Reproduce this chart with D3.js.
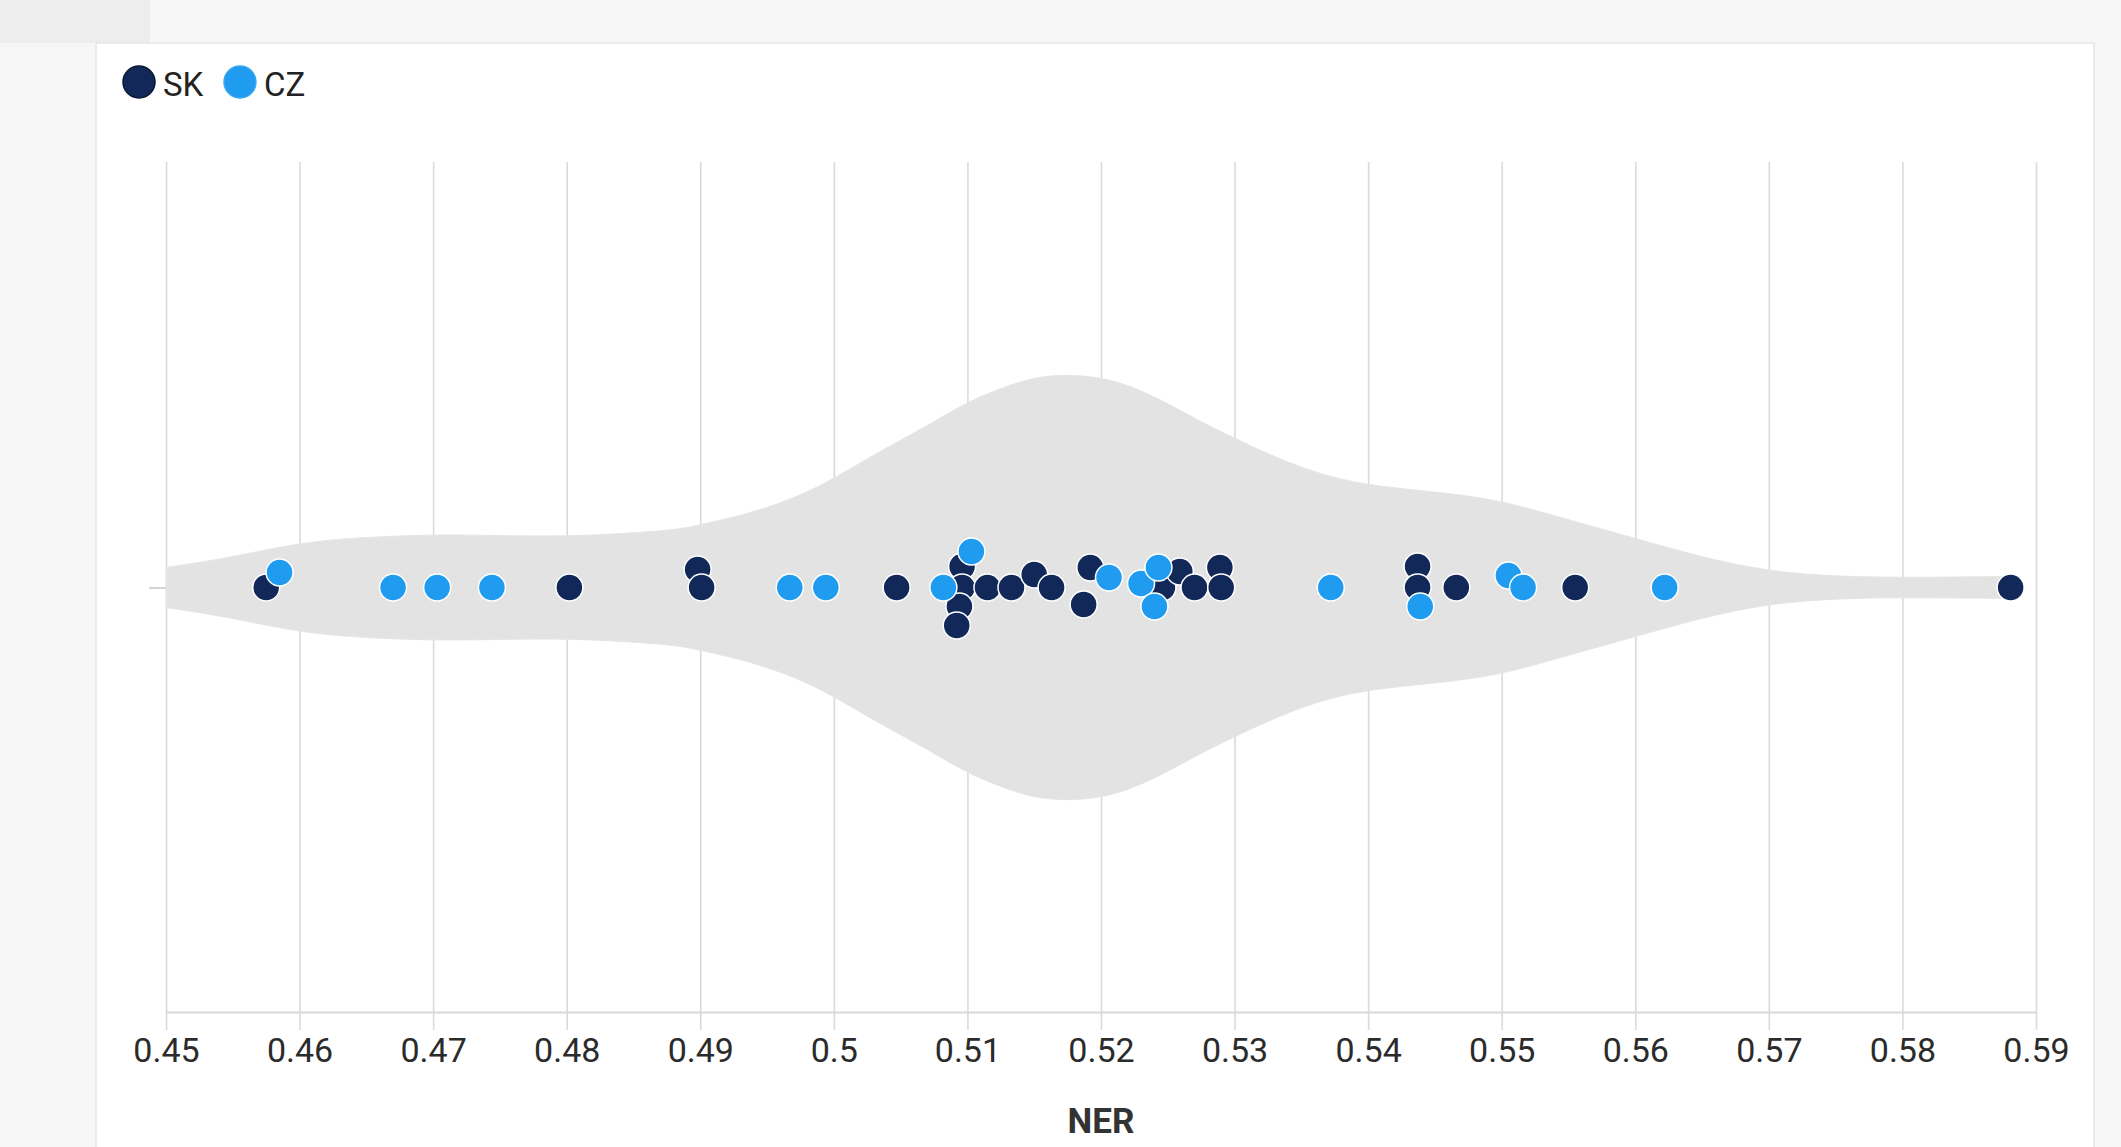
<!DOCTYPE html>
<html>
<head>
<meta charset="utf-8">
<script src="https://cdn.jsdelivr.net/npm/d3@7"></script>
<style>
  body { margin: 0; background: #f6f6f6; }
  svg { display: block; }
</style>
</head>
<body>
<div class="canvas"></div>
<script>
// tick values on the NER axis
const xTicks = [0.45, 0.46, 0.47, 0.48, 0.49, 0.5, 0.51, 0.52, 0.53, 0.54, 0.55, 0.56, 0.57, 0.58, 0.59];

// SK points: NER value and jitter (lane units)
const skValues = [0.4575, 0.4802, 0.4898, 0.4901, 0.5047, 0.5096, 0.5096, 0.5094, 0.5092,
                  0.5115, 0.5133, 0.5150, 0.5163, 0.5192, 0.5187, 0.5246, 0.5259, 0.5270,
                  0.5289, 0.5290, 0.5437, 0.5437, 0.5466, 0.5555, 0.5881];
const skJitter = [0, 0, -0.9, 0, 0, -1.05, 0, 0.95, 1.9,
                  0, 0, -0.65, 0, -1.0, 0.85, 0, -0.8, 0,
                  -1.0, 0, -1.05, 0, 0, 0, 0];

// CZ points
const czValues = [0.4585, 0.4670, 0.4703, 0.4744, 0.4967, 0.4994, 0.5082, 0.5103, 0.5206,
                  0.5230, 0.5243, 0.5240, 0.5372, 0.5439, 0.5505, 0.5516, 0.5622];
const czJitter = [-0.75, 0, 0, 0, 0, 0, 0, -1.8, -0.5,
                  -0.2, -1.0, 0.95, 0, 0.95, -0.6, 0, 0];

// violin outline (density)
const violinAt = [0.4500, 0.4545, 0.4600, 0.4645, 0.4700, 0.4745, 0.4800, 0.4845, 0.4885, 0.4900,
                  0.4935, 0.4972, 0.4999, 0.5034, 0.5072, 0.5100, 0.5134, 0.5159, 0.5199, 0.5234,
                  0.5274, 0.5299, 0.5324, 0.5361, 0.5399, 0.5448, 0.5498, 0.5549, 0.5598, 0.5647,
                  0.5699, 0.5751, 0.5799, 0.5840, 0.5881];
const violinDensity = [2.0, 2.9, 4.5, 5.0, 5.3, 5.2, 5.1, 5.4, 5.8, 6.3,
                       7.3, 9.0, 10.8, 13.6, 16.3, 18.6, 20.4, 21.3, 21.2, 19.6,
                       16.6, 15.0, 13.4, 11.4, 10.2, 9.6, 8.8, 6.8, 5.0, 3.1,
                       1.6, 1.1, 1.0, 1.05, 1.1];

const seriesNames = ["SK", "CZ"];
const colors = {SK: "#112859", CZ: "#1f9bf0"};

const W = 2121, H = 1147;
const svg = d3.select(".canvas")
  .append("svg")
    .attr("width", W)
    .attr("height", H);

// page background + white card
svg.append("rect").attr("width", W).attr("height", H).attr("fill", "#f6f6f6");
svg.append("rect").attr("x", 0).attr("y", 0).attr("width", 150).attr("height", 43).attr("fill", "#ededed");
svg.append("rect")
    .attr("x", 96).attr("y", 43)
    .attr("width", 2094 - 96).attr("height", H - 43 + 5)
    .attr("fill", "#fff")
    .attr("stroke", "#e6e6e6")
    .attr("stroke-width", 1.5);

const plotLeft = 166, plotRight = 2036, plotTop = 162, axisY = 1012;
const midY = 587.5;

const x = d3.scaleLinear().domain([0.45, 0.59]).range([plotLeft, plotRight]);
const jit = d3.scaleLinear().domain([-1, 1]).range([midY - 20, midY + 20]);
const half = d3.scaleLinear().domain([0, 21.1]).range([0, 211]);

// gridlines
const gridGroup = svg.append("g").attr("transform", `translate(0,${axisY})`);
gridGroup.call(d3.axisBottom(x).tickValues(xTicks).tickSize(-(axisY - plotTop)).tickFormat(""));
gridGroup.select(".domain").remove();
gridGroup.selectAll("line").attr("stroke", "#dadada").attr("stroke-width", 1.6);

// x axis
const xAxisGroup = svg.append("g").attr("transform", `translate(0,${axisY})`);
xAxisGroup.call(d3.axisBottom(x).tickValues(xTicks).tickSize(18).tickPadding(8).tickSizeOuter(0)
    .tickFormat(d3.format("~g")));
xAxisGroup.select(".domain").attr("stroke", "#d8d8d8").attr("stroke-width", 2);
xAxisGroup.selectAll(".tick line").attr("stroke", "#dadada").attr("stroke-width", 1.6);
xAxisGroup.selectAll("text")
    .attr("fill", "#2b2b2b")
    .style("font-family", "Roboto, 'Noto Sans', sans-serif")
    .style("font-size", "34px");

// small y tick on the left
const yAxisGroup = svg.append("g").attr("transform", `translate(${plotLeft},0)`);
yAxisGroup.call(d3.axisLeft(jit).tickValues([0]).tickSize(17).tickFormat(""));
yAxisGroup.select(".domain").remove();
yAxisGroup.selectAll("line").attr("stroke", "#d4d4d4").attr("stroke-width", 2);

// axis title
svg.append("text")
    .attr("x", x(0.52))
    .attr("y", 1133)
    .attr("text-anchor", "middle")
    .attr("fill", "#333")
    .style("font-family", "Roboto, 'Noto Sans', sans-serif")
    .style("font-weight", 700)
    .style("font-size", "35px")
    .text("NER");

// violin
const violin = violinAt.map((v, i) => ({v: v, d: violinDensity[i]}));
const area = d3.area()
    .x(d => x(d.v))
    .y0(d => midY + half(d.d))
    .y1(d => midY - half(d.d))
    .curve(d3.curveBasis);
svg.append("path")
    .datum(violin)
    .attr("d", area)
    .attr("fill", "#e3e3e3")
    .attr("stroke", "#e6e6e6")
    .attr("stroke-width", 1);

// points
const points = [];
skValues.forEach((v, i) => points.push({series: "SK", v: v, j: skJitter[i]}));
czValues.forEach((v, i) => points.push({series: "CZ", v: v, j: czJitter[i]}));

svg.append("g").selectAll("circle")
    .data(points)
    .enter()
    .append("circle")
      .attr("cx", d => x(d.v))
      .attr("cy", d => jit(d.j))
      .attr("r", 13.5)
      .attr("fill", d => colors[d.series])
      .attr("stroke", "#ffffff")
      .attr("stroke-width", 1.5);

// legend
const legend = svg.append("g");
const legendX = [139, 240];
seriesNames.forEach((name, i) => {
  legend.append("circle")
      .attr("cx", legendX[i])
      .attr("cy", 82)
      .attr("r", 16)
      .attr("fill", colors[name])
      .attr("stroke", name === "SK" ? "#0a1733" : "#3aa6f2")
      .attr("stroke-width", 1.5);
  legend.append("text")
      .attr("x", legendX[i] + 24)
      .attr("y", 96)
      .attr("fill", "#222")
      .style("font-family", "Roboto, 'Noto Sans', sans-serif")
      .style("font-size", "33px")
      .text(name);
});
</script>
</body>
</html>
